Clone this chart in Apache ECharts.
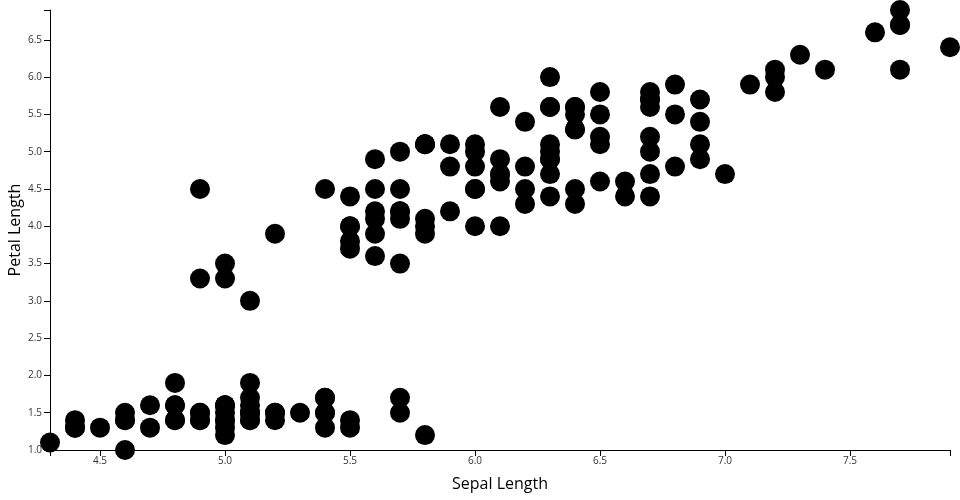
<!DOCTYPE html>
<html><head><meta charset="utf-8">
<script src="https://cdn.jsdelivr.net/npm/echarts@6/dist/echarts.min.js"></script>
<style>html,body{margin:0;padding:0;background:#fff}#c{width:960px;height:500px}</style>
</head><body><div id="c"></div>
<script>
const sepalLength = [5.1,4.9,4.7,4.6,5.0,5.4,4.6,5.0,4.4,4.9,5.4,4.8,4.8,4.3,5.8,5.7,5.4,5.1,5.7,5.1,5.4,5.1,4.6,5.1,4.8,5.0,5.0,5.2,5.2,4.7,4.8,5.4,5.2,5.5,4.9,5.0,5.5,4.9,4.4,5.1,5.0,4.5,4.4,5.0,5.1,4.8,5.1,4.6,5.3,5.0,
7.0,6.4,6.9,5.5,6.5,5.7,6.3,4.9,6.6,5.2,5.0,5.9,6.0,6.1,5.6,6.7,5.6,5.8,6.2,5.6,5.9,6.1,6.3,6.1,6.4,6.6,6.8,6.7,6.0,5.7,5.5,5.5,5.8,6.0,5.4,6.0,6.7,6.3,5.6,5.5,5.5,6.1,5.8,5.0,5.6,5.7,5.7,6.2,5.1,5.7,
6.3,5.8,7.1,6.3,6.5,7.6,4.9,7.3,6.7,7.2,6.5,6.4,6.8,5.7,5.8,6.4,6.5,7.7,7.7,6.0,6.9,5.6,7.7,6.3,6.7,7.2,6.2,6.1,6.4,7.2,7.4,7.9,6.4,6.3,6.1,7.7,6.3,6.4,6.0,6.9,6.7,6.9,5.8,6.8,6.7,6.7,6.3,6.5,6.2,5.9];
const petalLength = [1.4,1.4,1.3,1.5,1.4,1.7,1.4,1.5,1.4,1.5,1.5,1.6,1.4,1.1,1.2,1.5,1.3,1.4,1.7,1.5,1.7,1.5,1.0,1.7,1.9,1.6,1.6,1.5,1.4,1.6,1.6,1.5,1.5,1.4,1.5,1.2,1.3,1.4,1.3,1.5,1.3,1.3,1.3,1.6,1.9,1.4,1.6,1.4,1.5,1.4,
4.7,4.5,4.9,4.0,4.6,4.5,4.7,3.3,4.6,3.9,3.5,4.2,4.0,4.7,3.6,4.4,4.5,4.1,4.5,3.9,4.8,4.0,4.9,4.7,4.3,4.4,4.8,5.0,4.5,3.5,3.8,3.7,3.9,5.1,4.5,4.5,4.7,4.4,4.1,4.0,4.4,4.6,4.0,3.3,4.2,4.2,4.2,4.3,3.0,4.1,
6.0,5.1,5.9,5.6,5.8,6.6,4.5,6.3,5.8,6.1,5.1,5.3,5.5,5.0,5.1,5.3,5.5,6.7,6.9,5.0,5.7,4.9,6.7,4.9,5.7,6.0,4.8,4.9,5.6,5.8,6.1,6.4,5.6,5.1,5.6,6.1,5.6,5.5,4.8,5.4,5.6,5.1,5.1,5.9,5.7,5.2,5.0,5.2,5.4,5.1];
const xLabelValues = [4.5,5.0,5.5,6.0,6.5,7.0,7.5];
const xTickValues = [4.3,4.5,5.0,5.5,6.0,6.5,7.0,7.5,7.9];
const yLabelValues = [1.0,1.5,2.0,2.5,3.0,3.5,4.0,4.5,5.0,5.5,6.0,6.5];
const yTickValues = [1.0,1.5,2.0,2.5,3.0,3.5,4.0,4.5,5.0,5.5,6.0,6.5,6.9];
const xTitle = 'Sepal Length';
const yTitle = 'Petal Length';

const points = sepalLength.map((v,i)=>[v, petalLength[i]]);
const FONT = '"Open Sans", sans-serif';
const chart = echarts.init(document.getElementById('c'), null, {renderer:'canvas'});
const axisCommon = {
  type:'value',
  splitLine:{show:false},
  nameMoveOverlap:false,
  axisLine:{show:true, onZero:false, lineStyle:{color:'#000', width:1}},
  axisTick:{show:true, length:6, lineStyle:{color:'#000', width:1}},
  axisLabel:{color:'#333', fontSize:10, fontFamily:FONT, formatter:v=>Number(v).toFixed(1), showMinLabel:true, showMaxLabel:true, hideOverlap:false},
  nameTextStyle:{color:'#000', fontSize:16, fontFamily:FONT}
};
chart.setOption({
  animation:false,
  backgroundColor:'#fff',
  grid:{left:50, right:10, top:10, bottom:50, containLabel:false, outerBoundsMode:'none'},
  xAxis:Object.assign({}, axisCommon, {
    min:4.3, max:7.9,
    name:xTitle, nameLocation:'middle', nameGap:26,
    axisTick:Object.assign({}, axisCommon.axisTick, {customValues:xTickValues}),
    axisLabel:Object.assign({}, axisCommon.axisLabel, {customValues:xLabelValues, margin:6})
  }),
  yAxis:Object.assign({}, axisCommon, {
    min:1.0, max:6.9,
    name:yTitle, nameLocation:'middle', nameGap:27,
    axisTick:Object.assign({}, axisCommon.axisTick, {customValues:yTickValues}),
    axisLabel:Object.assign({}, axisCommon.axisLabel, {customValues:yLabelValues, margin:8})
  }),
  series:[{
    type:'scatter',
    data:points,
    symbol:'circle',
    symbolSize:20,
    itemStyle:{color:'#000', opacity:1},
    emphasis:{disabled:true},
    clip:false
  }]
});
</script></body></html>
